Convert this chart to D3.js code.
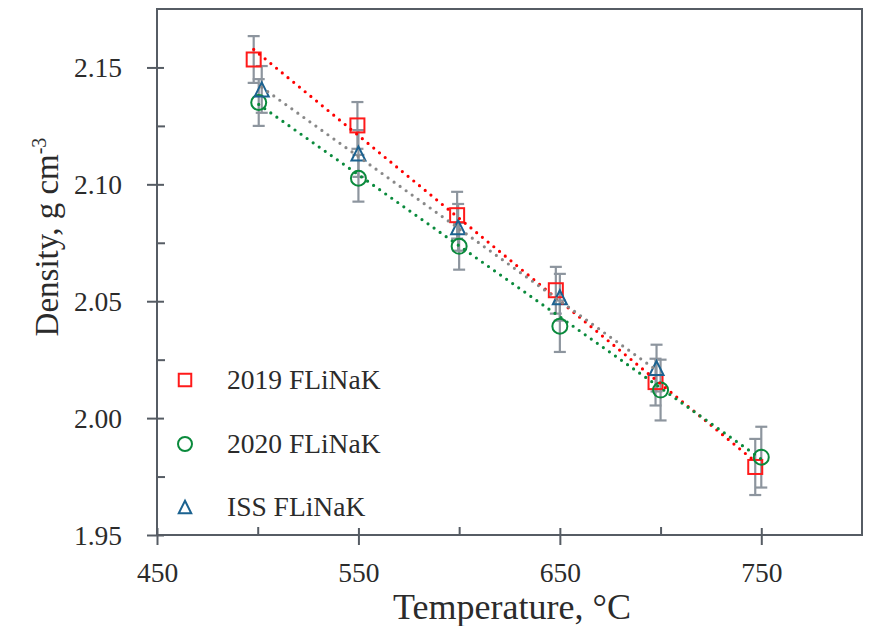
<!DOCTYPE html>
<html>
<head>
<meta charset="utf-8">
<script src="https://cdn.jsdelivr.net/npm/d3@7"></script>
<style>
  body { margin: 0; background: #fff; }
  text { font-family: "Liberation Serif", "Times New Roman", serif; fill: #2b2b2b; }
</style>
</head>
<body>
<script>
// data
const temps2019 = [498, 549.5, 599, 648, 697.5, 747];
const dens2019 = [2.1534, 2.1252, 2.0868, 2.0547, 2.0154, 1.9791];
const err2019 = [0.01, 0.01, 0.01, 0.01, 0.01, 0.012];

const temps2020 = [500.5, 550, 600, 650, 700, 750];
const dens2020 = [2.1350, 2.1026, 2.0735, 2.0393, 2.0120, 1.9833];
const err2020 = [0.01, 0.01, 0.01, 0.011, 0.013, 0.013];

const tempsISS = [502, 550, 599.5, 650, 698];
const densISS = [2.1406, 2.1132, 2.0816, 2.0517, 2.0214];
const errISS = [0.01, 0.01, 0.01, 0.01, 0.01];

// dotted fit lines (end points)
const fit2019 = [[498, 2.1577], [747, 1.9814]];
const fit2020 = [[500.5, 2.1342], [750, 1.9825]];
const fitISS = [[502, 2.1415], [698, 2.0205]];

const xTicks = [450, 550, 650, 750];
const xMinor = [500, 600, 700];
const yTicks = [1.95, 2.00, 2.05, 2.10, 2.15];
const yMinor = [1.975, 2.025, 2.075, 2.125];

const seriesNames = ["2019 FLiNaK", "2020 FLiNaK", "ISS FLiNaK"];
const seriesColors = ["#ff1a1a", "#0a8a3c", "#1b6290"];
const fitColors = ["#ff0000", "#0a8a3c", "#888888"];
const seriesShapes = ["square", "circle", "triangle"];

const W = 871, H = 626;
const m = {left: 157, top: 9, right: 9, bottom: 91};
const w = W - m.left - m.right, h = H - m.top - m.bottom;
const axisCol = "#565c64", errCol = "#8d959e";

const svg = d3.select("body").append("svg").attr("width", W).attr("height", H);
const g = svg.append("g").attr("transform", `translate(${m.left},${m.top})`);

const x = d3.scaleLinear().domain([450, 800]).range([0, w]);
const y = d3.scaleLinear().domain([1.95, 2.175]).range([h, 0]);

// axes
const xAx = g.append("g").attr("transform", `translate(0,${h})`)
  .call(d3.axisBottom(x).tickValues(xTicks).tickSize(10).tickPadding(17).tickFormat(d3.format("d")));
xAx.selectAll(".tick line").attr("y1", -7);
const xMin = g.append("g").attr("transform", `translate(0,${h})`)
  .call(d3.axisBottom(x).tickValues(xMinor).tickSize(-8).tickFormat(""));

const yAx = g.append("g")
  .call(d3.axisLeft(y).tickValues(yTicks).tickSize(10).tickPadding(25).tickFormat(d3.format(".2f")));
yAx.selectAll(".tick line").attr("x1", 7);
const yMin = g.append("g")
  .call(d3.axisLeft(y).tickValues(yMinor).tickSize(-8).tickFormat(""));

[xAx, xMin, yAx, yMin].forEach(a => {
  a.select(".domain").remove();
  a.selectAll(".tick line").attr("stroke", axisCol).attr("stroke-width", 2);
  a.selectAll("text").style("font-size", "27.5px").attr("fill", "#2b2b2b");
});
yAx.selectAll("text").attr("dy", "0.34em");

g.append("rect").attr("width", w).attr("height", h)
  .attr("fill", "none").attr("stroke", axisCol).attr("stroke-width", 2);

// symbols
function marker(sel, shape, color, s) {
  if (shape === "square") {
    sel.append("rect").attr("x", -s / 2).attr("y", -s / 2).attr("width", s).attr("height", s)
      .attr("fill", "none").attr("stroke", color).attr("stroke-width", 2);
  } else if (shape === "circle") {
    sel.append("circle").attr("r", s / 2).attr("fill", "none")
      .attr("stroke", color).attr("stroke-width", 2);
  } else {
    sel.append("path").attr("d", `M0,${-s / 2}L${s / 2},${s / 2}L${-s / 2},${s / 2}Z`)
      .attr("fill", "none").attr("stroke", color).attr("stroke-width", 2);
  }
}

const sets = [
  {t: temps2019, d: dens2019, e: err2019, fit: fit2019},
  {t: temps2020, d: dens2020, e: err2020, fit: fit2020},
  {t: tempsISS, d: densISS, e: errISS, fit: fitISS}
];

// error bars
sets.forEach(s => {
  const pts = s.t.map((t, i) => ({t, d: s.d[i], e: s.e[i]}));
  const eb = g.append("g").attr("stroke", errCol).attr("stroke-width", 2.2);
  eb.selectAll("line.v").data(pts).enter().append("line")
    .attr("x1", p => x(p.t)).attr("x2", p => x(p.t))
    .attr("y1", p => y(p.d + p.e)).attr("y2", p => y(p.d - p.e));
  eb.selectAll("line.top").data(pts).enter().append("line")
    .attr("x1", p => x(p.t) - 6).attr("x2", p => x(p.t) + 6)
    .attr("y1", p => y(p.d + p.e)).attr("y2", p => y(p.d + p.e));
  eb.selectAll("line.bot").data(pts).enter().append("line")
    .attr("x1", p => x(p.t) - 6).attr("x2", p => x(p.t) + 6)
    .attr("y1", p => y(p.d - p.e)).attr("y2", p => y(p.d - p.e));
});

// markers
sets.forEach((s, k) => {
  s.t.forEach((t, i) => {
    const mg = g.append("g").attr("transform", `translate(${x(t)},${y(s.d[i])})`);
    marker(mg, seriesShapes[k], seriesColors[k], k === 1 ? 15 : 14);
  });
});

// dotted fit lines
const line = d3.line().x(p => x(p[0])).y(p => y(p[1]));
sets.forEach((s, k) => {
  g.append("path").attr("d", line(s.fit)).attr("fill", "none")
    .attr("stroke", fitColors[k]).attr("stroke-width", 3.2)
    .attr("stroke-linecap", "round").attr("stroke-dasharray", "0 7.4");
});

// legend
const legY = [380, 444, 507];
seriesNames.forEach((n, k) => {
  const lg = svg.append("g").attr("transform", `translate(185,${legY[k]})`);
  marker(lg, seriesShapes[k], seriesColors[k], k === 1 ? 14 : 12.5);
  lg.append("text").attr("x", 42).attr("y", 9).style("font-size", "27.5px").text(n);
});

// axis titles
svg.append("text").attr("x", 512).attr("y", 619)
  .attr("text-anchor", "middle").style("font-size", "36px").text("Temperature, °C");

const yt = svg.append("text").attr("transform", "translate(58,237) rotate(-90)")
  .attr("text-anchor", "middle").style("font-size", "33px");
yt.append("tspan").text("Density, g cm");
yt.append("tspan").attr("dy", "-0.6em").style("font-size", "20px").text("-3");
</script>
</body>
</html>
